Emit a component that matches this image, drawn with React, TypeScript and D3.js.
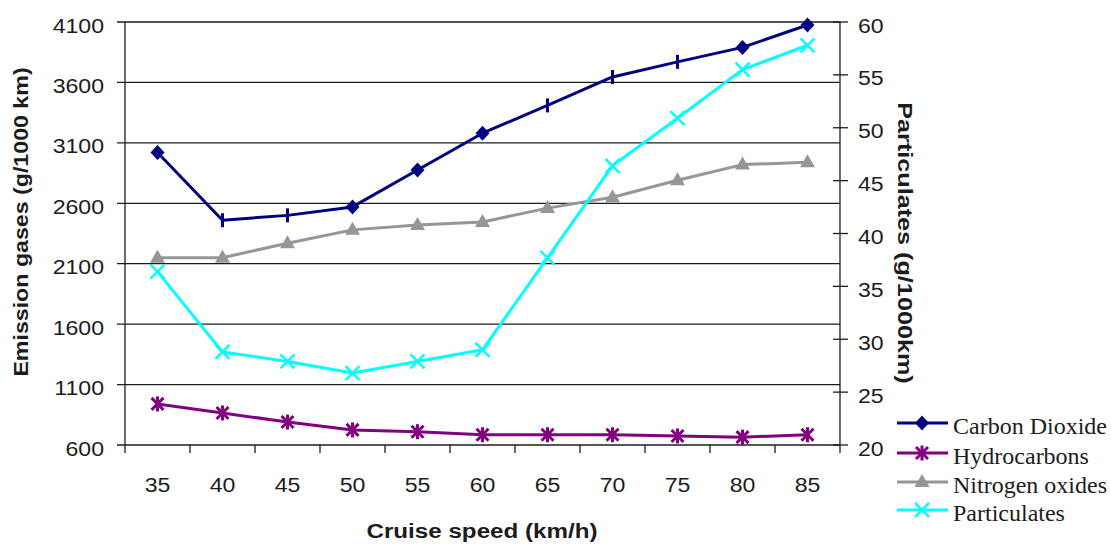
import React from "react";
import * as d3 from "d3";

// Cruise speed categories (km/h)
const speeds = [35, 40, 45, 50, 55, 60, 65, 70, 75, 80, 85];
// Emission gases, g/1000 km (left axis)
const carbonDioxide = [3020, 2460, 2500, 2570, 2875, 3180, 3410, 3645, 3770, 3890, 4075];
const hydrocarbons = [940, 865, 790, 725, 710, 685, 685, 685, 675, 665, 685];
const nitrogenOxides = [2150, 2150, 2270, 2380, 2420, 2445, 2560, 2650, 2790, 2920, 2940];
// Particulates, g/1000km (right axis)
const particulates = [36.4, 28.8, 27.9, 26.8, 27.9, 29.0, 37.7, 46.4, 50.9, 55.5, 57.8];
// Carbon dioxide marker glyph per point
const co2Markers = ["diamond", "bar", "bar", "diamond", "diamond", "diamond", "bar", "bar", "bar", "diamond", "diamond"];

const leftTicks = [600, 1100, 1600, 2100, 2600, 3100, 3600, 4100];
const rightTicks = [20, 25, 30, 35, 40, 45, 50, 55, 60];

const W = 1111;
const H = 544;
const plot = { left: 125, right: 840, top: 22, bottom: 445 };

const x = d3.scaleBand<number>().domain(speeds).range([plot.left, plot.right]);
const cx = (s: number) => (x(s) as number) + x.bandwidth() / 2;
const yL = d3.scaleLinear().domain([600, 4100]).range([plot.bottom, plot.top]);
const yR = d3.scaleLinear().domain([20, 60]).range([plot.bottom, plot.top]);

const NAVY = "#000080";
const PURPLE = "#800080";
const GRAY = "#969696";
const CYAN = "#00FFFF";
const INK = "#1c1c1c";
const SANS = "Arial, 'Liberation Sans', sans-serif";
const SERIF = "'Times New Roman', 'Liberation Serif', serif";

type Pt = [number, number];

function STxt(props: {
  x: number; y: number; sx?: number; rot?: number; anchor?: string; size: number;
  weight?: string | number; family?: string; children: React.ReactNode;
}) {
  const { x: tx, y: ty, sx = 1, rot = 0, anchor = "start", size, weight = "normal", family = SANS } = props;
  return (
    <text
      transform={`translate(${tx},${ty}) rotate(${rot}) scale(${sx},1)`}
      textAnchor={anchor as any}
      fontSize={size}
      fontWeight={weight as any}
      fontFamily={family}
      fill={INK}
    >
      {props.children}
    </text>
  );
}

function Marker({ kind, x: mx, y: my, color }: { kind: string; x: number; y: number; color: string }) {
  switch (kind) {
    case "diamond":
      return <path d={`M${mx},${my - 7.5}L${mx + 7},${my}L${mx},${my + 7.5}L${mx - 7},${my}Z`} fill={color} />;
    case "bar":
      return <line x1={mx} x2={mx} y1={my - 7} y2={my + 7} stroke={color} strokeWidth={3} />;
    case "star":
      return (
        <g stroke={color} strokeWidth={3} strokeLinecap="butt">
          <line x1={mx - 6} y1={my - 6} x2={mx + 6} y2={my + 6} />
          <line x1={mx - 6} y1={my + 6} x2={mx + 6} y2={my - 6} />
          <line x1={mx} y1={my - 7.5} x2={mx} y2={my + 7.5} />
        </g>
      );
    case "triangle":
      return <path d={`M${mx},${my - 8}L${mx + 7.5},${my + 5}L${mx - 7.5},${my + 5}Z`} fill={color} />;
    case "cross":
      return (
        <g stroke={color} strokeWidth={2.5}>
          <line x1={mx - 7} y1={my - 7} x2={mx + 7} y2={my + 7} />
          <line x1={mx - 7} y1={my + 7} x2={mx + 7} y2={my - 7} />
        </g>
      );
    default:
      return null;
  }
}

const line = d3.line<Pt>().x((d) => d[0]).y((d) => d[1]);

const series = [
  { name: "Carbon Dioxide", color: NAVY, pts: speeds.map((s, i) => [cx(s), yL(carbonDioxide[i])] as Pt), markers: co2Markers, legendMarker: "diamond" },
  { name: "Hydrocarbons", color: PURPLE, pts: speeds.map((s, i) => [cx(s), yL(hydrocarbons[i])] as Pt), markers: speeds.map(() => "star"), legendMarker: "star" },
  { name: "Nitrogen oxides", color: GRAY, pts: speeds.map((s, i) => [cx(s), yL(nitrogenOxides[i])] as Pt), markers: speeds.map(() => "triangle"), legendMarker: "triangle" },
  { name: "Particulates", color: CYAN, pts: speeds.map((s, i) => [cx(s), yR(particulates[i])] as Pt), markers: speeds.map(() => "cross"), legendMarker: "cross" },
];

const legendRows = [423, 453, 482, 510];

export default function App() {
  const tickSize = 21;
  const tickSx = 1.1;
  const xEdges = [...speeds.map((s) => x(s) as number), plot.right];
  // draw order: gray, purple, cyan, navy on top
  const drawOrder = [2, 1, 3, 0];
  return (
    <svg width={W} height={H} style={{ position: "absolute", left: 0, top: 0, background: "#fff" }}>
      <rect width={W} height={H} fill="#fff" />
      {/* horizontal gridlines */}
      {leftTicks.map((t) => (
        <line key={`g${t}`} x1={plot.left - 8} x2={plot.right} y1={yL(t)} y2={yL(t)} stroke={INK} strokeWidth={1.3} />
      ))}
      {/* axes */}
      <line x1={plot.left} x2={plot.left} y1={plot.top} y2={plot.bottom} stroke={INK} strokeWidth={1.3} />
      <line x1={plot.right} x2={plot.right} y1={plot.top} y2={plot.bottom} stroke={INK} strokeWidth={1.3} />
      {xEdges.map((e, i) => (
        <line key={`xt${i}`} x1={e} x2={e} y1={plot.bottom} y2={plot.bottom + 8} stroke={INK} strokeWidth={1.3} />
      ))}
      {rightTicks.map((t) => (
        <line key={`rt${t}`} x1={plot.right - 7} x2={plot.right + 8} y1={yR(t)} y2={yR(t)} stroke={INK} strokeWidth={1.3} />
      ))}
      {/* tick labels */}
      {leftTicks.map((t) => (
        <STxt key={`ll${t}`} x={104} y={yL(t) + tickSize * 0.358 + 3} sx={tickSx} anchor="end" size={tickSize}>
          {t}
        </STxt>
      ))}
      {rightTicks.map((t) => (
        <STxt key={`rl${t}`} x={858} y={yR(t) + tickSize * 0.358 + 3} sx={tickSx} anchor="start" size={tickSize}>
          {t}
        </STxt>
      ))}
      {speeds.map((s) => (
        <STxt key={`xl${s}`} x={cx(s)} y={492} sx={tickSx} anchor="middle" size={tickSize}>
          {s}
        </STxt>
      ))}
      {/* axis titles */}
      <STxt x={482} y={538} sx={1.21} anchor="middle" size={20} weight="bold">
        Cruise speed (km/h)
      </STxt>
      <STxt x={28} y={222} rot={-90} sx={1.16} anchor="middle" size={20} weight="bold">
        Emission gases (g/1000 km)
      </STxt>
      <STxt x={898} y={243} rot={90} sx={1.2} anchor="middle" size={21} weight="bold">
        Particulates (g/1000km)
      </STxt>
      {/* series */}
      {drawOrder.map((k) => {
        const s = series[k];
        return (
          <g key={s.name}>
            <path d={line(s.pts) || ""} fill="none" stroke={s.color} strokeWidth={3} strokeLinejoin="round" />
            {s.pts.map((p, i) => (
              <Marker key={i} kind={s.markers[i]} x={p[0]} y={p[1]} color={s.color} />
            ))}
          </g>
        );
      })}
      {/* legend */}
      {series.map((s, i) => (
        <g key={`lg${i}`}>
          <line x1={897} x2={948} y1={legendRows[i]} y2={legendRows[i]} stroke={s.color} strokeWidth={3} />
          <Marker kind={s.legendMarker} x={922} y={legendRows[i]} color={s.color} />
          <text x={953} y={legendRows[i] + 11} fontSize={24} fontFamily={SERIF} fill={INK}>
            {s.name}
          </text>
        </g>
      ))}
    </svg>
  );
}
